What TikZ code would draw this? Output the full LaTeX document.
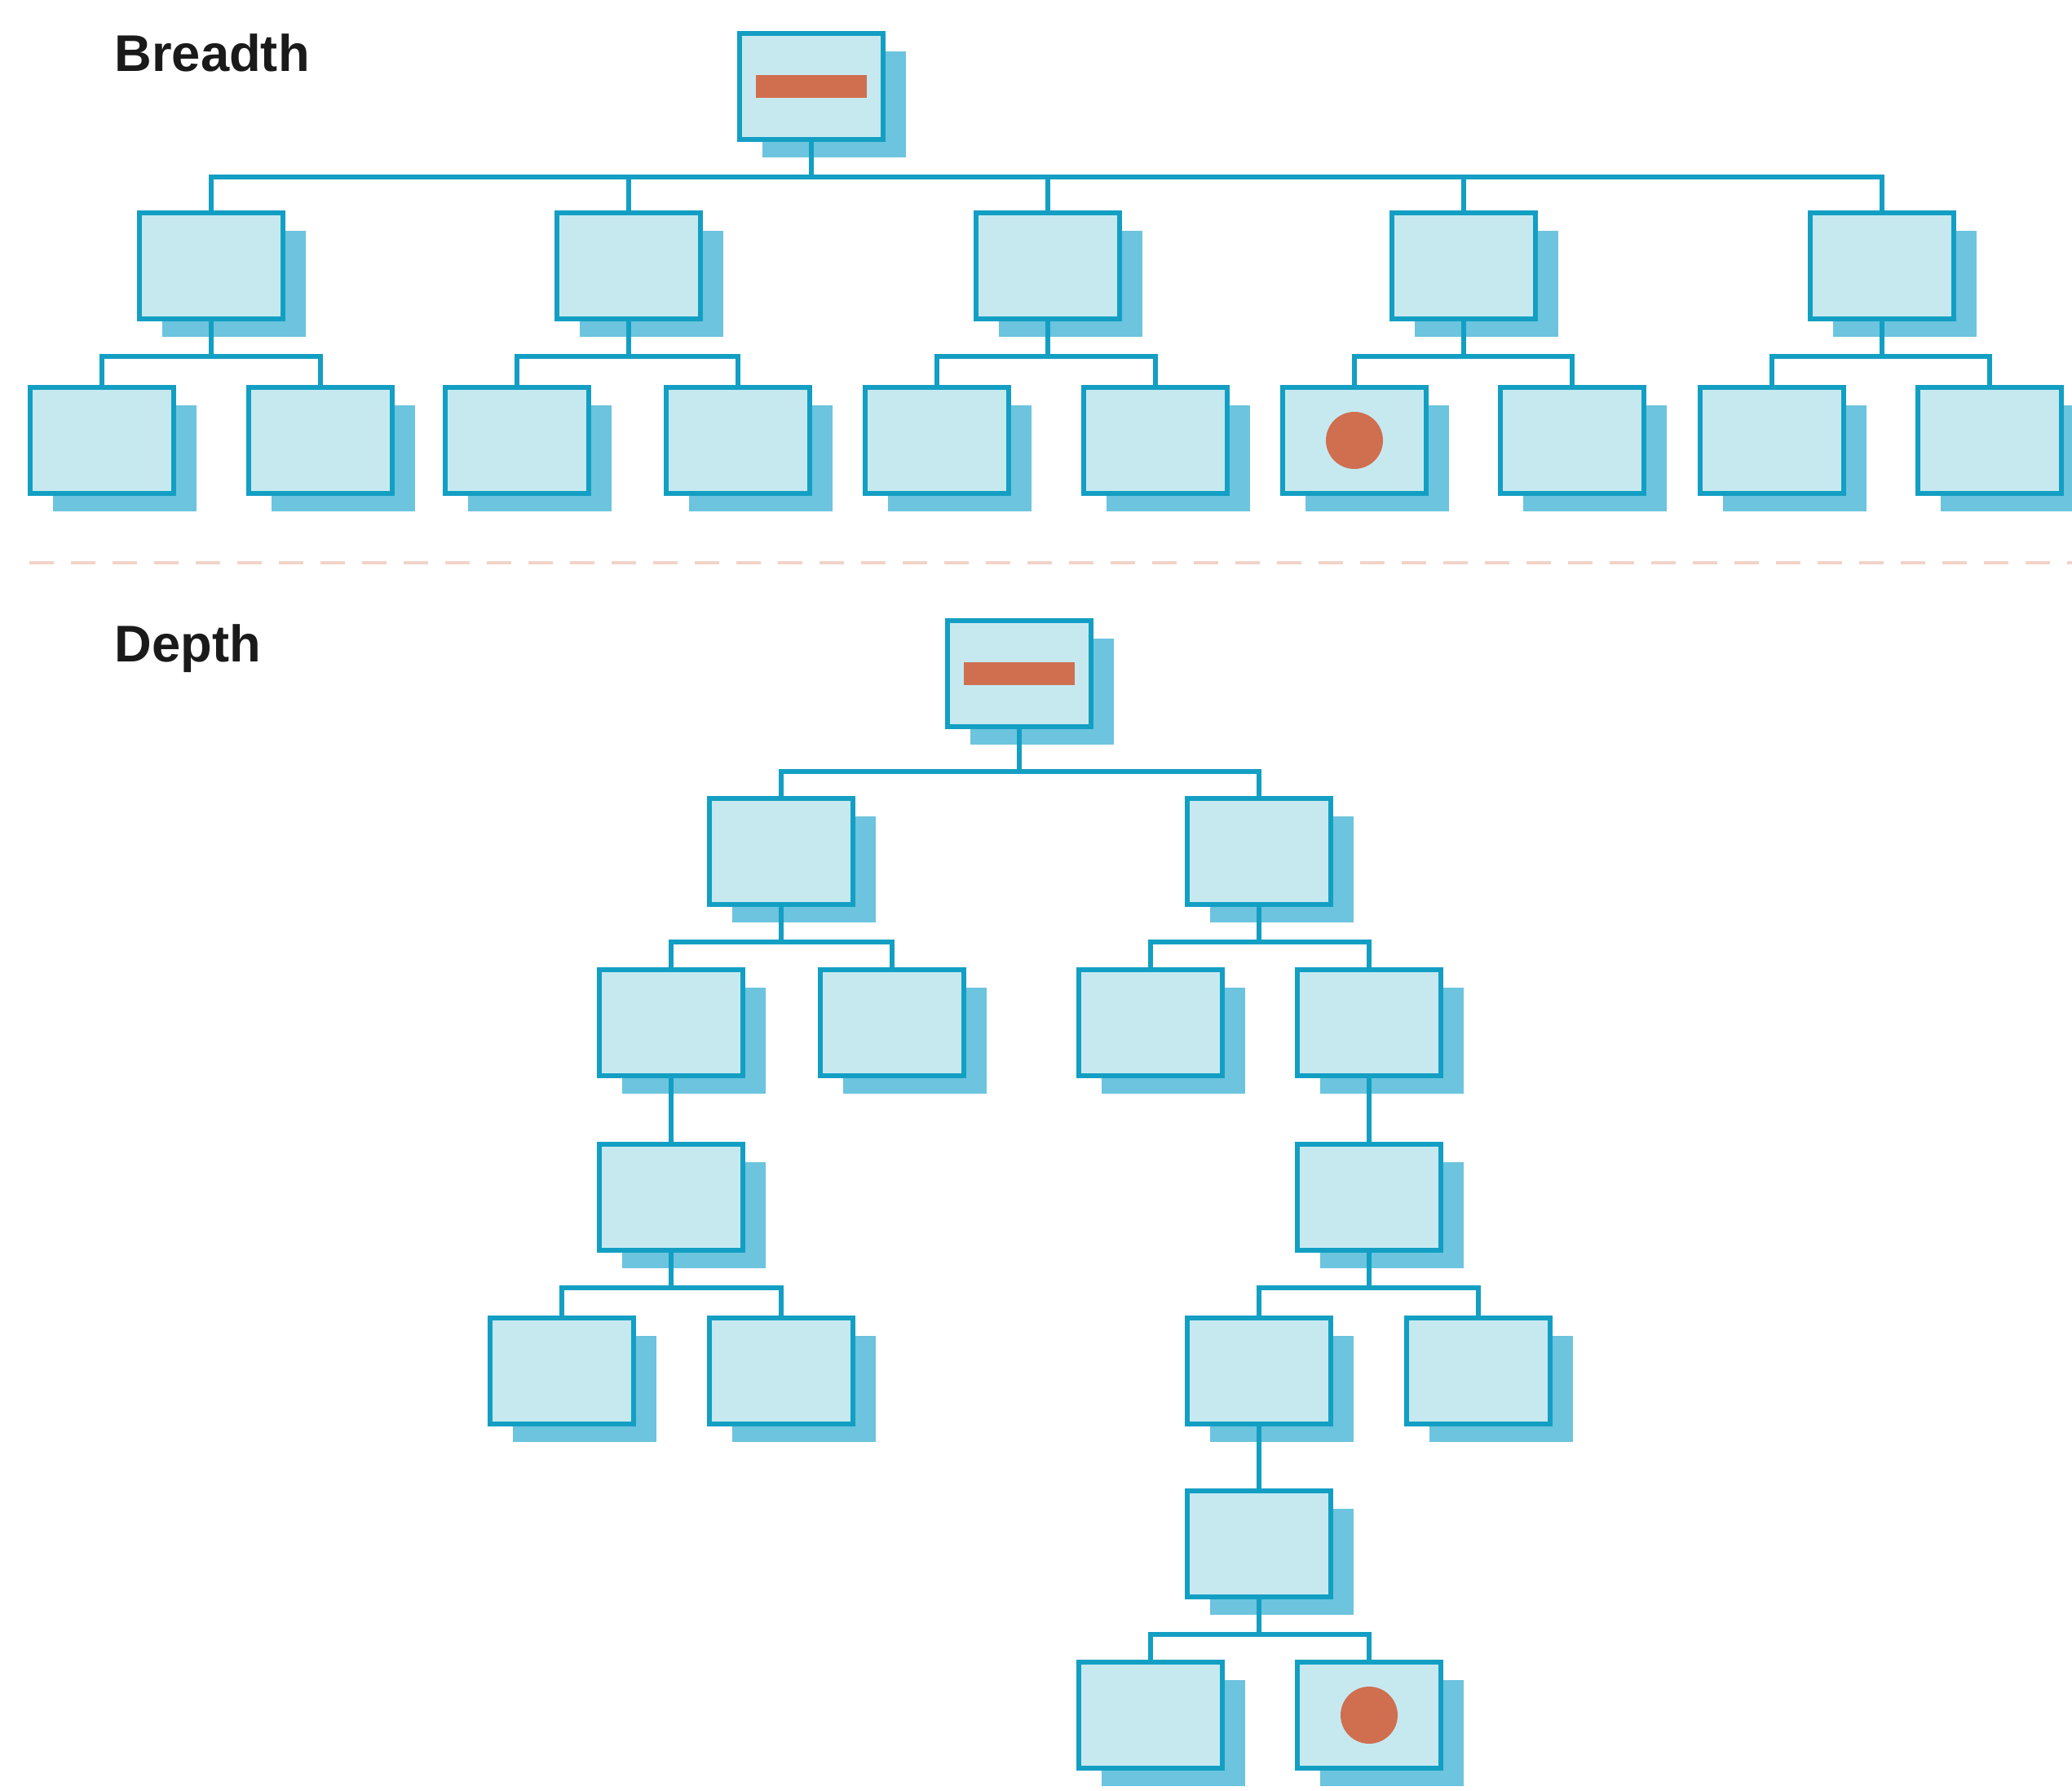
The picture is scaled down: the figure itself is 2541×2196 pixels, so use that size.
\documentclass[tikz,border=0pt]{standalone}
\usepackage{fontspec}
\setmainfont{Liberation Sans}
\usetikzlibrary{shadows}
\definecolor{boxfill}{HTML}{C6E9F0}
\definecolor{boxline}{HTML}{139FC3}
\definecolor{boxshadow}{HTML}{6CC4DE}
\definecolor{mark}{HTML}{CF6F50}
\definecolor{sepline}{HTML}{F2D3C8}
\definecolor{title}{HTML}{1A1A1A}
\begin{document}
\begin{tikzpicture}[x=0.1mm,y=-0.1mm,box/.style={rectangle,draw=boxline,fill=boxfill,line width=0.6mm,minimum width=17.6mm,minimum height=13mm,inner sep=0pt,general shadow={fill=boxshadow,shadow xshift=2.8mm,shadow yshift=-2.2mm}},link/.style={draw=boxline,line width=0.55mm},fork/.style={to path={(\tikztostart) -- ++(0,-4.3mm) -| (\tikztotarget)}},longfork/.style={to path={(\tikztostart) -- ++(0,-5.2mm) -| (\tikztotarget)}},bar/.style={rectangle,fill=mark,minimum width=13.6mm,minimum height=2.8mm,inner sep=0pt},dot/.style={circle,fill=mark,minimum size=7mm,inner sep=0pt},heading/.style={anchor=base west,inner sep=0pt,text=title,font=\fontsize{18}{20}\selectfont\bfseries}]
\useasboundingbox (0,0) rectangle (2541,2196);
\node[heading] (btitle) at (140,88) {Breadth};
\node[box] (b0) at (995,106) {};
\node[bar] (b0bar) at (b0) {};
\node[box] (b1) at (259,326) {};
\node[box] (b2) at (771,326) {};
\node[box] (b3) at (1285,326) {};
\node[box] (b4) at (1795,326) {};
\node[box] (b5) at (2308,326) {};
\node[box] (b1a) at (125,540) {};
\node[box] (b1b) at (393,540) {};
\node[box] (b2a) at (634,540) {};
\node[box] (b2b) at (905,540) {};
\node[box] (b3a) at (1149,540) {};
\node[box] (b3b) at (1417,540) {};
\node[box] (b4a) at (1661,540) {};
\node[dot] (b4adot) at (b4a) {};
\node[box] (b4b) at (1928,540) {};
\node[box] (b5a) at (2173,540) {};
\node[box] (b5b) at (2440,540) {};
\draw[link] (b0.south) to[fork] (b1.north) (b0.south) to[fork] (b2.north) (b0.south) to[fork] (b3.north) (b0.south) to[fork] (b4.north) (b0.south) to[fork] (b5.north);
\draw[link] (b1.south) to[fork] (b1a.north) (b1.south) to[fork] (b1b.north);
\draw[link] (b2.south) to[fork] (b2a.north) (b2.south) to[fork] (b2b.north);
\draw[link] (b3.south) to[fork] (b3a.north) (b3.south) to[fork] (b3b.north);
\draw[link] (b4.south) to[fork] (b4a.north) (b4.south) to[fork] (b4b.north);
\draw[link] (b5.south) to[fork] (b5a.north) (b5.south) to[fork] (b5b.north);
\coordinate (sepleft) at (36,690);
\coordinate (sepright) at (2541,690);
\draw[sepline,line width=0.35mm,dash pattern=on 3mm off 2.1mm] (sepleft) -- (sepright);
\node[heading] (dtitle) at (140,812) {Depth};
\node[box] (d0) at (1250,826) {};
\node[bar] (d0bar) at (d0) {};
\node[box] (d1) at (958,1044) {};
\node[box] (d2) at (1544,1044) {};
\node[box] (d3) at (823,1254) {};
\node[box] (d4) at (1094,1254) {};
\node[box] (d5) at (1411,1254) {};
\node[box] (d6) at (1679,1254) {};
\node[box] (d7) at (823,1468) {};
\node[box] (d8) at (1679,1468) {};
\node[box] (d9) at (689,1681) {};
\node[box] (d10) at (958,1681) {};
\node[box] (d11) at (1544,1681) {};
\node[box] (d12) at (1813,1681) {};
\node[box] (d13) at (1544,1893) {};
\node[box] (d14) at (1411,2103) {};
\node[box] (d15) at (1679,2103) {};
\node[dot] (d15dot) at (d15) {};
\draw[link] (d0.south) to[longfork] (d1.north) (d0.south) to[longfork] (d2.north);
\draw[link] (d1.south) to[fork] (d3.north) (d1.south) to[fork] (d4.north);
\draw[link] (d2.south) to[fork] (d5.north) (d2.south) to[fork] (d6.north);
\draw[link] (d3.south) -- (d7.north);
\draw[link] (d6.south) -- (d8.north);
\draw[link] (d7.south) to[fork] (d9.north) (d7.south) to[fork] (d10.north);
\draw[link] (d8.south) to[fork] (d11.north) (d8.south) to[fork] (d12.north);
\draw[link] (d11.south) -- (d13.north);
\draw[link] (d13.south) to[fork] (d14.north) (d13.south) to[fork] (d15.north);
\end{tikzpicture}
\end{document}
